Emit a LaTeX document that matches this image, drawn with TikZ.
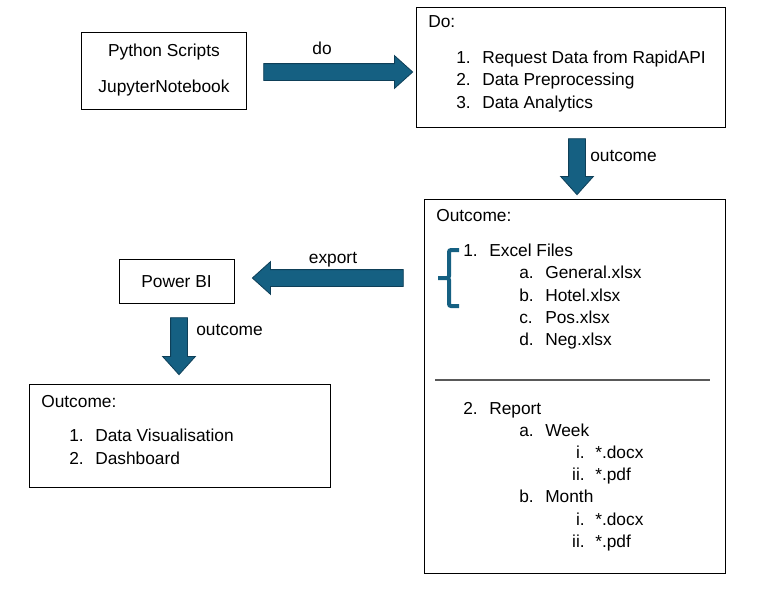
\documentclass[tikz,border=0pt]{standalone}
\usepackage{fontspec}
\setmainfont{Liberation Sans}
\usepackage{tikz}
\usetikzlibrary{shapes.arrows, positioning}
\definecolor{arrowfill}{HTML}{156082}
\definecolor{arrowline}{HTML}{0E3F58}
\tikzstyle{box} = [draw, line width=0.6pt, inner sep=0pt]
\tikzstyle{txt} = [anchor=west, inner sep=0pt, text height=12.2pt, text depth=3pt, font=\fontsize{13pt}{15pt}\selectfont]
\tikzstyle{rnum} = [txt, anchor=east]
\tikzstyle{blockarrow} = [single arrow, draw=arrowline, fill=arrowfill, line width=0.6pt,
    inner sep=0pt, text height=12pt, text depth=0pt, minimum width=24pt,
    single arrow head extend=6pt, single arrow tip angle=84]

\begin{document}
\begin{tikzpicture}[x=0.75pt, y=-0.75pt]
        \useasboundingbox (0,0) rectangle (759,601);
        % boxes
        \node[box, minimum width=123.75pt, minimum height=57.75pt] (py) at (163.5,70.5) {};
        \node[box, minimum width=231.75pt, minimum height=90pt] (do) at (570.5,67) {};
        \node[box, minimum width=225.75pt, minimum height=280.5pt] (out) at (574.5,386) {};
        \node[box, minimum width=86.25pt, minimum height=33pt] (pbi) at (176.5,281) {};
        \node[box, minimum width=225.75pt, minimum height=77.25pt] (res) at (179.5,435.5) {};
        % block arrows
        \node[blockarrow, minimum height=111.75pt] (aDo) at (333.5,72) {};
        \node[blockarrow, minimum height=42pt, rotate=-90] (aOut) at (577,162) {};
        \node[blockarrow, minimum height=113.25pt, rotate=180] (aExp) at (332.5,278) {};
        \node[blockarrow, minimum height=42.75pt, rotate=-90] (aRes) at (179,341.5) {};
        \node[txt, anchor=center] (lDo) at (322,48) {do};
        \node[txt] (lOut) at (590,155) {outcome};
        \node[txt, anchor=center] (lExp) at (333,257) {export};
        \node[txt] (lRes) at (196,329) {outcome};
        % python box and power bi
        \node[txt, anchor=center] (t1) at (164,50) {Python Scripts};
        \node[txt, anchor=center] (t2) at (164,86) {JupyterNotebook};
        \node[txt, anchor=center] (t3) at (pbi) {Power BI};
        % do box
        \node[txt] (d0) at (428,21) {Do:};
        \node[txt] (d1n) at (456,57) {1.};
        \node[txt] (d1) at (482,57) {Request Data from RapidAPI};
        \node[txt] (d2n) at (456,79) {2.};
        \node[txt] (d2) at (482,79) {Data Preprocessing};
        \node[txt] (d3n) at (456,102) {3.};
        \node[txt] (d3) at (482,102) {Data Analytics};
        % outcome box
        \node[txt] (o0) at (436,215) {Outcome:};
        \node[txt] (o1n) at (463,250) {1.};
        \node[txt] (o1) at (489,250) {Excel Files};
        \node[txt] (o1an) at (519,272) {a.};
        \node[txt] (o1a) at (545,272) {General.xlsx};
        \node[txt] (o1bn) at (519,295) {b.};
        \node[txt] (o1b) at (545,295) {Hotel.xlsx};
        \node[txt] (o1cn) at (519,317) {c.};
        \node[txt] (o1c) at (545,317) {Pos.xlsx};
        \node[txt] (o1dn) at (519,339) {d.};
        \node[txt] (o1d) at (545,339) {Neg.xlsx};
        \node[txt] (o2n) at (463,408) {2.};
        \node[txt] (o2) at (489,408) {Report};
        \node[txt] (o2an) at (519,430) {a.};
        \node[txt] (o2a) at (545,430) {Week};
        \node[rnum] (o2a1n) at (585,452) {i.};
        \node[txt] (o2a1) at (595,452) {*.docx};
        \node[rnum] (o2a2n) at (585,474) {ii.};
        \node[txt] (o2a2) at (595,474) {*.pdf};
        \node[txt] (o2bn) at (519,496) {b.};
        \node[txt] (o2b) at (545,496) {Month};
        \node[rnum] (o2b1n) at (585,519) {i.};
        \node[txt] (o2b1) at (595,519) {*.docx};
        \node[rnum] (o2b2n) at (585,541) {ii.};
        \node[txt] (o2b2) at (595,541) {*.pdf};
        % brace and separator
        \draw[arrowfill, line width=3pt, rounded corners=1.5pt] (459,250) -- (449,250) -- (449,278) -- (437,278) -- (449,278) -- (449,306) -- (459,306);
        \draw[black!65, line width=0.8pt] (435,380) -- (710,380);
        % results box
        \node[txt] (r0) at (41,401) {Outcome:};
        \node[txt] (r1n) at (69,435) {1.};
        \node[txt] (r1) at (95,435) {Data Visualisation};
        \node[txt] (r2n) at (69,458) {2.};
        \node[txt] (r2) at (95,458) {Dashboard};
    \end{tikzpicture}
\end{document}
